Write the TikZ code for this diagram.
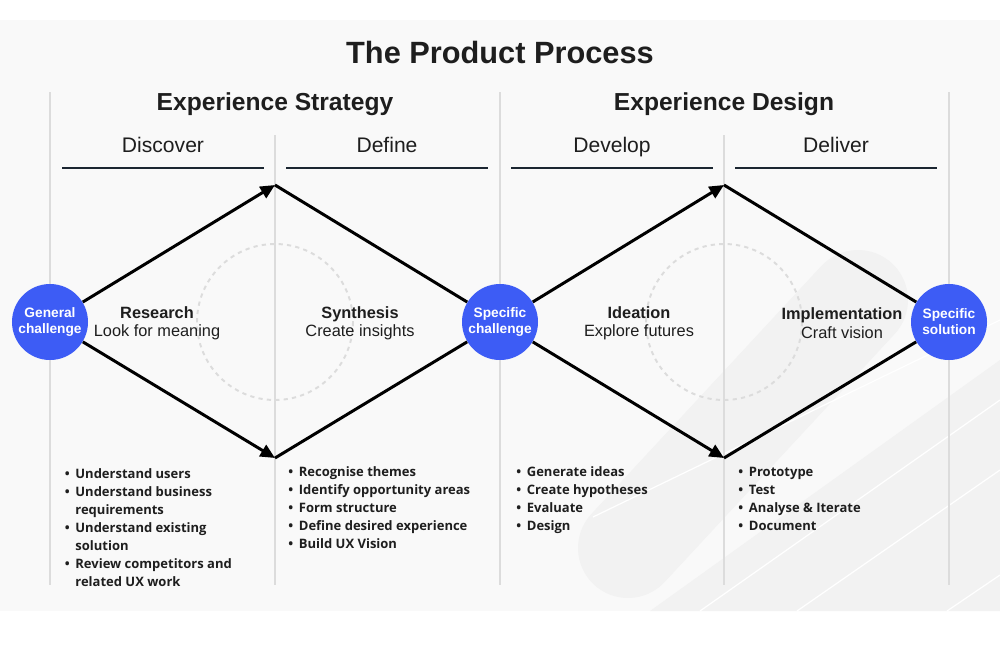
\documentclass[tikz,border=0pt]{standalone}
\usepackage{fontspec}
\setmainfont{Liberation Sans}
\newfontfamily\listfont{Open Sans}
\usetikzlibrary{arrows.meta, positioning}
\definecolor{cblue}{HTML}{3D5CF5}
\definecolor{cink}{HTML}{1B2631}
\definecolor{ctext}{HTML}{1E1E1E}
\definecolor{crule}{HTML}{DCDCDC}
\definecolor{cpaper}{HTML}{F9F9F9}
\definecolor{cband}{HTML}{F2F2F2}
\newcommand{\bl}{\makebox[6pt][l]{\textbullet}}
\newcommand{\cl}{\hspace*{6pt}}
\tikzset{
  every node/.style={text=ctext},
  title/.style={font=\fontsize{17.5}{20}\selectfont\bfseries, anchor=base},
  heading/.style={font=\fontsize{14}{16}\selectfont\bfseries, anchor=base},
  phase/.style={font=\fontsize{12}{14}\selectfont, anchor=base},
  hub/.style={circle, fill=cblue, minimum size=15.2mm, inner sep=0pt, align=center,
    text=white, font=\fontsize{7.8}{9.2}\selectfont\bfseries},
  stage/.style={align=center, inner sep=0pt, font=\fontsize{9.3}{10.5}\selectfont},
  item/.style={anchor=base west, inner sep=0pt, font=\listfont\bfseries\fontsize{7.4}{9}\selectfont},
  flow/.style={draw=black, line width=1.7pt},
  arrow/.style={flow, -{Triangle[length=2.9mm, width=2.6mm]}},
  guide/.style={draw=crule, line width=0.85pt},
  bar/.style={draw=cink, line width=1.55pt},
  ring/.style={draw=crule, line width=1.1pt, dash pattern=on 2.4pt off 2.4pt},
  band/.style={draw=cband, line width=56.9pt, line cap=round},
  sheen/.style={draw=white, line width=0.7pt},
}

\begin{document}
\begin{tikzpicture}[x=0.2mm, y=-0.2mm]
  \useasboundingbox (0,0) rectangle (1000,666);
  \fill[cpaper] (0,20) rectangle (1000,611);
  % backdrop stripes
  \begin{scope}
    \clip (0,20) rectangle (1000,611);
    \draw[band] (628,548) -- (858,300);
    \fill[cband] (650,611) -- (1000,360) -- (1000,611) -- cycle;
    \draw[sheen] (593,517) -- (1000,320);
    \draw[sheen] (700,611) -- (1000,400);
    \draw[sheen] (797,611) -- (1000,470);
    \draw[sheen] (947,611) -- (1000,575);
  \end{scope}

  \foreach \x in {50,500,949} \draw[guide] (\x,92) -- (\x,585);
  \foreach \x in {275,724} \draw[guide] (\x,135) -- (\x,585);
  \foreach \a/\b in {62/264, 286/488, 511/713, 735/937} \draw[bar] (\a,168) -- (\b,168);

  \node[title] (ttl) at (500,63) {The Product Process};
  \node[heading] (strat) at (275,110) {Experience Strategy};
  \node[heading] (dsgn) at (724,110) {Experience Design};
  \node[phase] (disc) at (163,152) {Discover};
  \node[phase] (defn) at (387,152) {Define};
  \node[phase] (devl) at (612,152) {Develop};
  \node[phase] (delv) at (836,152) {Deliver};

  \coordinate (t1) at (275,185);
  \coordinate (b1) at (275,458);
  \coordinate (t2) at (724,185);
  \coordinate (b2) at (724,458);

  \node[hub] (gc) at (50,322) {General\\challenge};
  \node[hub] (sc) at (500,322) {Specific\\challenge};
  \node[hub] (ss) at (949,322) {Specific\\solution};

  \draw[ring] (t1 |- gc) circle[radius=78];
  \draw[ring] (t2 |- gc) circle[radius=78];

  \draw[arrow] (gc) -- (t1);
  \draw[arrow] (gc) -- (b1);
  \draw[flow] (t1) -- (sc);
  \draw[flow] (b1) -- (sc);
  \draw[arrow] (sc) -- (t2);
  \draw[arrow] (sc) -- (b2);
  \draw[flow] (t2) -- (ss);
  \draw[flow] (b2) -- (ss);

  \node[stage] (res) at (157,323) {\textbf{Research}\\Look for meaning};
  \node[stage] (syn) at (360,323) {\textbf{Synthesis}\\Create insights};
  \node[stage] (ide) at (639,323) {\textbf{Ideation}\\Explore futures};
  \node[stage] (imp) at (842,323) {\textbf{Implementation}\\Craft vision};

  \foreach \t [count=\i] in {\bl Understand users, \bl Understand business, \cl requirements,
      \bl Understand existing, \cl solution, \bl Review competitors and, \cl related UX work}
    \node[item] (la\i) at (64.5,478+18*\i-18) {\t};
  \foreach \t [count=\i] in {\bl Recognise themes, \bl Identify opportunity areas, \bl Form structure,
      \bl Define desired experience, \bl Build UX Vision}
    \node[item] (lb\i) at (288,476+18*\i-18) {\t};
  \foreach \t [count=\i] in {\bl Generate ideas, \bl Create hypotheses, \bl Evaluate, \bl Design}
    \node[item] (lc\i) at (516,476+18*\i-18) {\t};
  \foreach \t [count=\i] in {\bl Prototype, \bl Test, \bl Analyse \& Iterate, \bl Document}
    \node[item] (ld\i) at (738,476+18*\i-18) {\t};
\end{tikzpicture}
\end{document}
